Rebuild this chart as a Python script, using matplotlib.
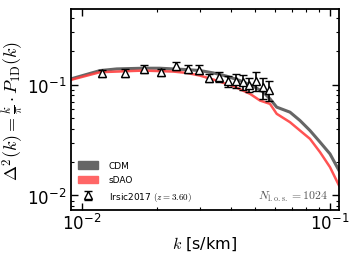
import matplotlib
matplotlib.use("Agg")
import matplotlib.pyplot as plt
from matplotlib.patches import Patch
import numpy as np

plt.rcParams['mathtext.fontset'] = 'cm'
plt.rcParams['font.family'] = ['DejaVu Sans']

# CDM simulation curve
k_cdm = [0.009028, 0.011822, 0.013799, 0.017673, 0.020630, 0.023335, 0.026440,
         0.029904, 0.033834, 0.038331, 0.043363, 0.049060, 0.053830, 0.057280,
         0.060960, 0.068960, 0.075680, 0.083050, 0.091130, 0.1, 0.10871]
p_cdm = [0.1125, 0.1337, 0.1384, 0.1404, 0.1404, 0.1384, 0.1365,
         0.1337, 0.1274, 0.1190, 0.1086, 0.0967, 0.0854, 0.0743,
         0.0626, 0.0564, 0.0474, 0.0385, 0.0303, 0.0237, 0.0168]

# sDAO simulation curve
k_sdao = [0.009028, 0.011822, 0.017673, 0.023335, 0.026440, 0.029904, 0.034910,
          0.040740, 0.047580, 0.052200, 0.057280, 0.060960, 0.068960, 0.075680,
          0.083050, 0.091130, 0.1, 0.10871]
p_sdao = [0.1103, 0.1293, 0.1337, 0.1310, 0.1274, 0.1205, 0.1086,
          0.0967, 0.0825, 0.0718, 0.0670, 0.0545, 0.0458, 0.0385,
          0.0324, 0.0246, 0.0180, 0.0123]

# Irsic et al. 2017, z = 3.6
k_obs = [0.01200, 0.01490, 0.01778, 0.02082, 0.02387, 0.02683, 0.02972, 0.03261,
         0.03567, 0.03868, 0.04167, 0.04460, 0.04727, 0.05030, 0.05353, 0.05659]
p_obs = [0.1267, 0.1274, 0.1384, 0.1293, 0.1483, 0.1384, 0.1365, 0.1149,
         0.1180, 0.1073, 0.1086, 0.1051, 0.1000, 0.1086, 0.0948, 0.0896]
e_obs = [0.0095, 0.0096, 0.0104, 0.0090, 0.0119, 0.0118, 0.0124, 0.0105,
         0.0129, 0.0124, 0.0156, 0.0157, 0.0149, 0.0214, 0.0202, 0.0179]

fig = plt.figure(figsize=(3.57, 2.55), dpi=100)
ax = fig.add_axes([71/357, 1 - 211/255, 268/357, 201/255])

ax.plot(k_cdm, p_cdm, color='#555555', lw=2.2, alpha=0.9)
ax.plot(k_sdao, p_sdao, color='#ff4040', lw=1.8, alpha=0.9)
eb = ax.errorbar(k_obs, p_obs, yerr=e_obs, fmt='^', ms=5.5, mfc='white', mec='black',
                 mew=1.0, ecolor='black', elinewidth=1.2, capsize=3, capthick=1.2,
                 zorder=5)

ax.set_xscale('log')
ax.set_yscale('log')
ax.set_xlim(0.00903, 0.1087)
ax.set_ylim(0.0074, 0.48)

ax.tick_params(which='both', direction='in', top=True, right=True, labelsize=12)
ax.tick_params(axis='x', pad=2)
ax.tick_params(which='major', length=5, width=1.0)
ax.tick_params(which='minor', length=2.5, width=0.8)
for s in ax.spines.values():
    s.set_linewidth(1.3)

ax.set_xlabel(r'$k$ [s/km]', fontsize=11.5, labelpad=1)
ax.set_ylabel(r'$\Delta^2(k) = \frac{k}{\pi}\cdot P_{\rm 1D}(k)$', fontsize=13, labelpad=1)

ax.text(0.96, 0.07, r'$N_{\rm l.o.s.} = 1024$', transform=ax.transAxes,
        ha='right', va='center', fontsize=8.5, color='#555555')

handles = [Patch(color='#666666'), Patch(color='#ff6666'), eb]
labels = ['CDM', 'sDAO', r'Irsic2017 $(z=3.60)$']
ax.legend(handles, labels, loc='lower left', frameon=False, fontsize=6.5,
          handlelength=2.2, handleheight=0.9, handletextpad=1.2,
          borderaxespad=0.4, labelspacing=0.6)

fig.savefig('out.png', dpi=100)
